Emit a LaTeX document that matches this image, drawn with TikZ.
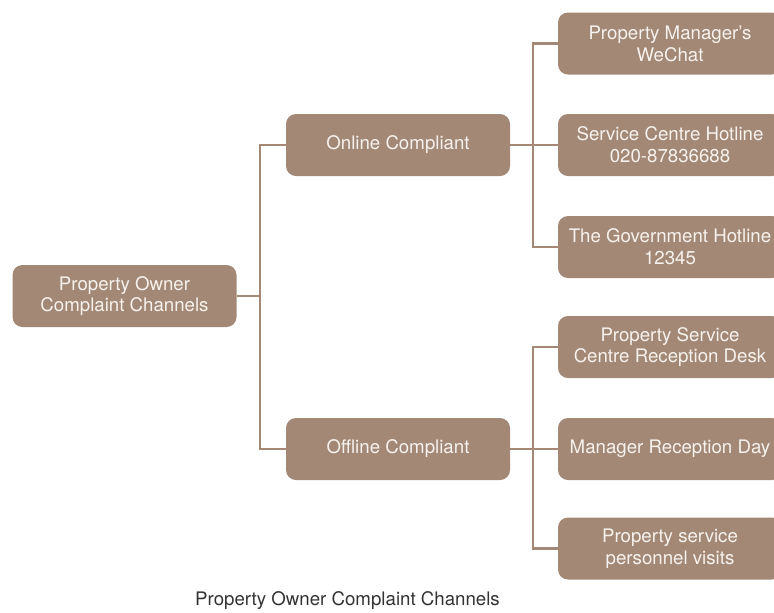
\documentclass[tikz,border=0pt]{standalone}
\usepackage{fontspec}
\setmainfont{TeX Gyre Heros}
\usetikzlibrary{positioning}
\definecolor{boxbrown}{HTML}{A28875}
\definecolor{boxtext}{HTML}{F7F2EE}
\definecolor{captiongray}{HTML}{333333}

\begin{document}
\begin{tikzpicture}[x=0.75pt,y=-0.75pt]
                \tikzstyle{channel}=[fill=boxbrown, text=boxtext, rounded corners=7.5pt,
                  minimum width=168pt, minimum height=46.5pt, inner sep=0pt, align=center,
                  font=\fontsize{14}{16.3}\selectfont]
                \tikzstyle{link}=[draw=boxbrown, line width=1.6pt]
                \useasboundingbox (0,0) rectangle (774,612);
                \clip (0,0) rectangle (774,612);
                % root and the two branches
                \node [channel] (owner) at (124.5,296) {Property Owner\\Complaint Channels};
                \node [channel] (online) at (398,145) {Online Compliant};
                \node [channel] (offline) at (398,449) {Offline Compliant};
                % online channels
                \node [channel] (wechat) at (670,43.5) {Property Manager's\\WeChat};
                \node [channel] (hotline) at (670,145) {Service Centre Hotline\\020-87836688};
                \node [channel] (gov) at (670,247) {The Government Hotline\\12345};
                % offline channels
                \node [channel] (desk) at (670,347) {Property Service\\Centre Reception Desk};
                \node [channel] (manager) at (670,449) {Manager Reception Day};
                \node [channel] (visits) at (670,548.5) {Property service\\personnel visits};
                % connectors
                \coordinate (ownerfork) at (260,296);
                \coordinate (onlinefork) at (533,145);
                \coordinate (offlinefork) at (533,449);
                \draw [link] (owner.east) -- (ownerfork);
                \draw [link] (ownerfork) |- (online.west);
                \draw [link] (ownerfork) |- (offline.west);
                \draw [link] (online.east) -- (onlinefork);
                \foreach \leaf in {wechat,hotline,gov}
                  \draw [link] (onlinefork) |- (\leaf.west);
                \draw [link] (offline.east) -- (offlinefork);
                \foreach \leaf in {desk,manager,visits}
                  \draw [link] (offlinefork) |- (\leaf.west);
                % caption
                \node [text=captiongray, font=\fontsize{14}{16.3}\selectfont] (caption) at (347.5,601) {Property Owner Complaint Channels};
\end{tikzpicture}
\end{document}
